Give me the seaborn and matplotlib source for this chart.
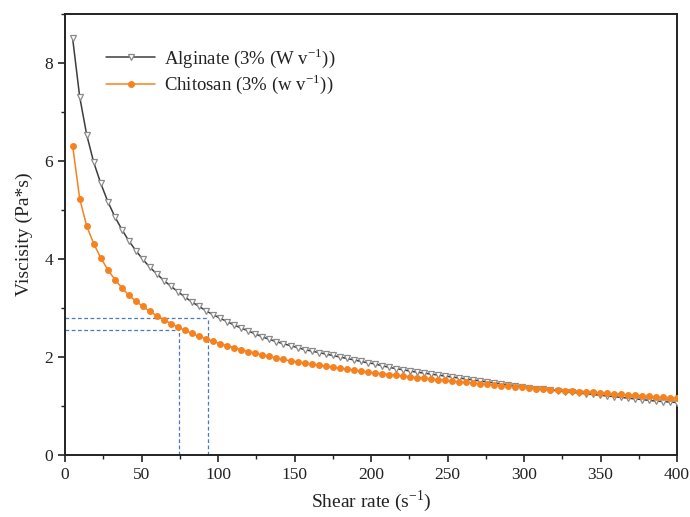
import numpy as np
import pandas as pd
import seaborn as sns
import matplotlib
matplotlib.use("Agg")
import matplotlib.pyplot as plt
from matplotlib.ticker import MultipleLocator

# Shear-rate sweep (s^-1)
shear_rate = [
    5.0, 9.6, 14.2, 18.8, 23.4, 28.0, 32.6, 37.2, 41.7, 46.3,
    50.9, 55.5, 60.1, 64.7, 69.3, 73.9, 78.5, 83.1, 87.7, 92.3,
    96.9, 101.5, 106.0, 110.6, 115.2, 119.8, 124.4, 129.0, 133.6, 138.2,
    142.8, 147.4, 152.0, 156.6, 161.2, 165.8, 170.3, 174.9, 179.5, 184.1,
    188.7, 193.3, 197.9, 202.5, 207.1, 211.7, 216.3, 220.9, 225.5, 230.1,
    234.7, 239.2, 243.8, 248.4, 253.0, 257.6, 262.2, 266.8, 271.4, 276.0,
    280.6, 285.2, 289.8, 294.4, 299.0, 303.5, 308.1, 312.7, 317.3, 321.9,
    326.5, 331.1, 335.7, 340.3, 344.9, 349.5, 354.1, 358.7, 363.3, 367.9,
    372.4, 377.0, 381.6, 386.2, 390.8, 395.4, 400.0,
]

# Apparent viscosity (Pa*s), alginate 3% (w/v)
alginate = [
    8.50, 7.31, 6.53, 5.97, 5.54, 5.17, 4.86, 4.60, 4.37, 4.17,
    3.99, 3.83, 3.69, 3.56, 3.44, 3.33, 3.22, 3.12, 3.03, 2.94,
    2.86, 2.79, 2.72, 2.65, 2.59, 2.53, 2.47, 2.41, 2.36, 2.31,
    2.27, 2.23, 2.19, 2.15, 2.12, 2.09, 2.06, 2.03, 2.00, 1.97,
    1.94, 1.91, 1.88, 1.86, 1.82, 1.79, 1.76, 1.74, 1.71, 1.69,
    1.67, 1.65, 1.63, 1.61, 1.59, 1.57, 1.55, 1.53, 1.51, 1.49,
    1.47, 1.45, 1.43, 1.41, 1.39, 1.37, 1.355, 1.34, 1.325, 1.31,
    1.295, 1.28, 1.265, 1.25, 1.235, 1.22, 1.205, 1.19, 1.175, 1.16,
    1.145, 1.13, 1.115, 1.10, 1.09, 1.08, 1.07,
]

# Apparent viscosity (Pa*s), chitosan 3% (w/v)
chitosan = [
    6.31, 5.23, 4.67, 4.31, 4.02, 3.78, 3.58, 3.41, 3.26, 3.14,
    3.03, 2.93, 2.84, 2.76, 2.68, 2.61, 2.54, 2.48, 2.42, 2.37,
    2.32, 2.27, 2.23, 2.19, 2.15, 2.11, 2.08, 2.04, 2.01, 1.98,
    1.95, 1.92, 1.90, 1.87, 1.85, 1.83, 1.81, 1.79, 1.77, 1.75,
    1.73, 1.71, 1.69, 1.675, 1.66, 1.64, 1.625, 1.61, 1.595, 1.58,
    1.565, 1.55, 1.535, 1.52, 1.505, 1.49, 1.48, 1.465, 1.455, 1.44,
    1.43, 1.415, 1.405, 1.39, 1.38, 1.37, 1.355, 1.345, 1.335, 1.325,
    1.315, 1.305, 1.295, 1.285, 1.275, 1.265, 1.255, 1.245, 1.235, 1.225,
    1.215, 1.205, 1.195, 1.185, 1.175, 1.165, 1.155,
]

# Reference guide lines (shear rate, viscosity)
guide_rate = [74.7, 93.5]
guide_visc = [2.56, 2.80]

labels = [r"Alginate (3% (W v$^{\mathregular{-1}}$))",
          r"Chitosan (3% (w v$^{\mathregular{-1}}$))"]

sns.set_style("ticks")
plt.rcParams["font.family"] = ["Liberation Serif", "DejaVu Serif"]
plt.rcParams["mathtext.fontset"] = "custom"
plt.rcParams["mathtext.rm"] = "Liberation Serif"

df = pd.DataFrame({"rate": shear_rate, "alg": alginate, "chi": chitosan})

fig = plt.figure(figsize=(6.9, 5.17), dpi=100)
ax = fig.add_axes([0.0942, 0.12, 0.887, 0.853])

for gx, gy in zip(guide_rate, guide_visc):
    ax.plot([0, gx], [gy, gy], ls=(0, (3, 2)), color="#4a78c2", lw=0.9, zorder=1)
    ax.plot([gx, gx], [0, gy], ls=(0, (3, 2)), color="#4a78c2", lw=0.9, zorder=1)

sns.lineplot(data=df, x="rate", y="alg", ax=ax, color="#3d3d3d", lw=1.1,
             marker="v", markersize=4.2, markerfacecolor="white",
             markeredgecolor="#8a8a8a", markeredgewidth=0.9,
             label=labels[0], zorder=3)
sns.lineplot(data=df, x="rate", y="chi", ax=ax, color="#f5821f", lw=1.1,
             marker="o", markersize=5, markeredgewidth=0,
             label=labels[1], zorder=4)

ax.set_xlim(0, 400)
ax.set_ylim(0, 9)
ax.xaxis.set_major_locator(MultipleLocator(50))
ax.xaxis.set_minor_locator(MultipleLocator(25))
ax.yaxis.set_major_locator(MultipleLocator(2))
ax.yaxis.set_minor_locator(MultipleLocator(1))
ax.tick_params(which="major", direction="out", length=5, width=1.2,
               labelsize=12.5, colors="#222222", top=False, right=False)
ax.tick_params(which="minor", direction="out", length=3, width=1.0,
               top=False, right=False, color="#222222")
for s in ax.spines.values():
    s.set_linewidth(1.4)
    s.set_color("#222222")

ax.set_xlabel(r"Shear rate (s$^{\mathregular{-1}}$)", fontsize=14, color="#222222", labelpad=4)
ax.set_ylabel("Viscisity (Pa*s)", fontsize=14, color="#222222", labelpad=8)

leg = ax.legend(loc="upper left", bbox_to_anchor=(0.055, 0.945), frameon=False,
                fontsize=13.5, handlelength=2.6, handletextpad=0.5,
                labelspacing=0.15, borderaxespad=0)
for t in leg.get_texts():
    t.set_color("#222222")

fig.savefig("out.png", dpi=100)
